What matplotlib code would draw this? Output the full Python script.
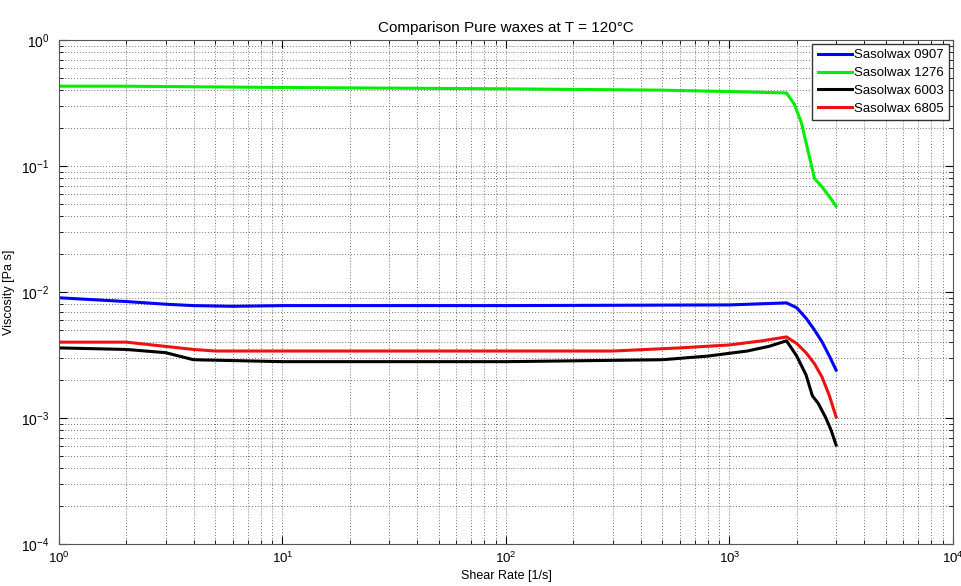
import numpy as np
import matplotlib.pyplot as plt

plt.rcParams['font.family'] = ['Liberation Sans', 'DejaVu Sans']

# shear rate [1/s] and viscosity [Pa s]
x_0907 = [1, 2, 3, 4, 6, 10, 100, 1000, 1500, 1800, 2000, 2200, 2400, 2600, 2800, 3000]
y_0907 = [0.0090, 0.0084, 0.0080, 0.0078, 0.0077, 0.0078, 0.0078, 0.0079, 0.0081, 0.0082,
          0.0075, 0.0062, 0.0050, 0.0040, 0.0031, 0.0024]

x_1276 = [1, 2, 10, 100, 500, 1000, 1800, 1950, 2100, 2250, 2400, 2600, 2800, 3000]
y_1276 = [0.43, 0.43, 0.42, 0.41, 0.40, 0.39, 0.38, 0.31, 0.22, 0.13, 0.08, 0.068, 0.057, 0.048]

x_6003 = [1, 2, 3, 4, 10, 100, 500, 800, 1200, 1500, 1800, 2000, 2200, 2350, 2500, 2700, 2850, 3000]
y_6003 = [0.0036, 0.0035, 0.0033, 0.0029, 0.0028, 0.0028, 0.0029, 0.0031, 0.0034, 0.0037,
          0.0041, 0.0031, 0.0022, 0.0015, 0.0013, 0.0010, 0.00080, 0.00061]

x_6805 = [1, 2, 3, 4, 5, 10, 100, 300, 600, 1000, 1400, 1800, 2000, 2200, 2400, 2600, 2800, 3000]
y_6805 = [0.0040, 0.0040, 0.0037, 0.0035, 0.0034, 0.0034, 0.0034, 0.0034, 0.0036, 0.0038,
          0.0041, 0.0044, 0.0039, 0.0033, 0.0027, 0.0021, 0.0015, 0.00102]

fig = plt.figure(figsize=(9.62, 5.86), dpi=100)
ax = fig.add_axes([0.0613, 0.0717, 0.9293, 0.86])

ax.loglog(x_0907, y_0907, color='#0000ff', lw=2.2, label='Sasolwax 0907')
ax.loglog(x_1276, y_1276, color='#00ee00', lw=2.2, label='Sasolwax 1276')
ax.loglog(x_6003, y_6003, color='black', lw=2.2, label='Sasolwax 6003')
ax.loglog(x_6805, y_6805, color='#ee1111', lw=2.2, label='Sasolwax 6805')

ax.set_xlim(1, 1e4)
ax.set_ylim(1e-4, 1)
ax.grid(True, which='both', linestyle=(0, (1, 2.5)), color='#444444', lw=0.6)
ax.tick_params(which='both', direction='in', top=True, right=True, labelsize=10)
ax.tick_params(axis='x', labelsize=9.5)
ax.tick_params(axis='y', which='major', pad=7)
ax.tick_params(axis='x', which='major', pad=5)
ax.tick_params(which='major', length=6)
ax.tick_params(which='minor', length=3)
for s in ax.spines.values():
    s.set_color('#555555')

ax.set_title('Comparison Pure waxes at T = 120°C', fontsize=11)
ax.set_xlabel('Shear Rate [1/s]', fontsize=9, labelpad=3)
ax.set_ylabel('Viscosity [Pa s]', fontsize=9, labelpad=4)

leg = ax.legend(loc='upper right', fontsize=9.5, fancybox=False, framealpha=1,
                edgecolor='#333333', borderaxespad=0.3, handlelength=2.6,
                handletextpad=0.15, labelspacing=0.42, borderpad=0.4)

fig.savefig('out.png', dpi=100)
